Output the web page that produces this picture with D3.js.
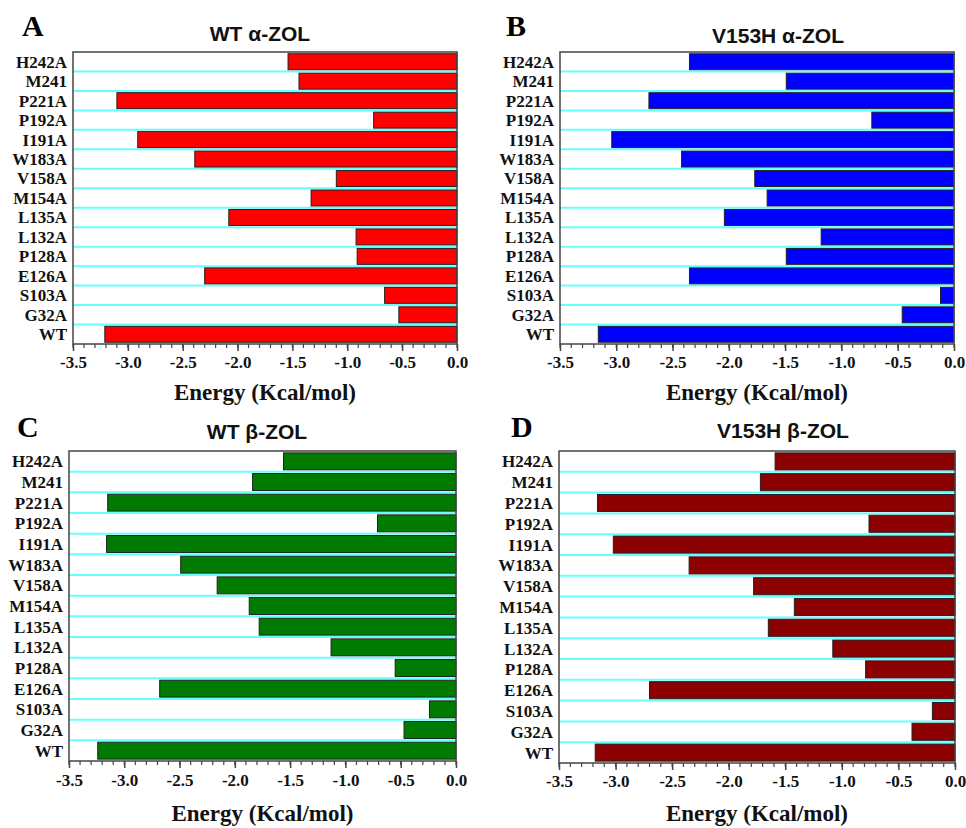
<!DOCTYPE html>
<html lang="en">
<head>
<meta charset="utf-8">
<style>
  body { margin: 0; background: #fff; }
  svg { display: block; }
</style>
</head>
<body>
<div id="viz"></div>
<script src="https://d3js.org/d3.v7.min.js"></script>
<script>

// residues, top to bottom
var residues = ["H242A","M241","P221A","P192A","I191A","W183A","V158A","M154A",
                "L135A","L132A","P128A","E126A","S103A","G32A","WT"];

var wtAlpha    = [-1.54,-1.44,-3.10,-0.76,-2.91,-2.39,-1.10,-1.33,-2.08,-0.92,-0.91,-2.30,-0.66,-0.53,-3.21];
var v153hAlpha = [-2.35,-1.49,-2.71,-0.73,-3.04,-2.42,-1.77,-1.66,-2.04,-1.18,-1.49,-2.35,-0.12,-0.46,-3.16];
var wtBeta     = [-1.56,-1.84,-3.15,-0.71,-3.16,-2.49,-2.16,-1.87,-1.78,-1.13,-0.55,-2.68,-0.24,-0.47,-3.24];
var v153hBeta  = [-1.59,-1.72,-3.16,-0.76,-3.02,-2.35,-1.78,-1.42,-1.65,-1.08,-0.79,-2.70,-0.20,-0.38,-3.18];

var xTicks = [-3.5,-3.0,-2.5,-2.0,-1.5,-1.0,-0.5,0.0];
var xLabel = "Energy (Kcal/mol)";

var w = 966, h = 828;

var svg = d3.select("#viz").append("svg")
  .attr("width", w).attr("height", h);

var panels = [
  {letter:"A", title:"WT \u03b1-ZOL",    values:wtAlpha,    color:"#ff0000",
   x0:73,  x1:457, y0:52,  y1:344, lx:22,  ly:36,  tx:260, ty:41,  tickDy:24, titleDy:56},
  {letter:"B", title:"V153H \u03b1-ZOL", values:v153hAlpha, color:"#0000ff",
   x0:560, x1:954, y0:52,  y1:344, lx:506, ly:36,  tx:778, ty:43,  tickDy:24, titleDy:56},
  {letter:"C", title:"WT \u03b2-ZOL",    values:wtBeta,     color:"#007a00",
   x0:69,  x1:456, y0:451, y1:761, lx:17,  ly:437, tx:257, ty:439, tickDy:25, titleDy:60},
  {letter:"D", title:"V153H \u03b2-ZOL", values:v153hBeta,  color:"#8b0000",
   x0:559, x1:955, y0:451, y1:763, lx:511, ly:437, tx:783, ty:438, tickDy:24, titleDy:58}
];

panels.forEach(function(p){
  var g = svg.append("g");

  var x = d3.scaleLinear().domain([-3.5, 0]).range([p.x0, p.x1]);
  var y = d3.scaleBand().domain(residues).range([p.y0, p.y1]).paddingInner(0.18).paddingOuter(0.09);
  var step = y.step();

  // cyan separators between rows
  g.selectAll(".sep")
    .data(residues.slice(1))
    .enter().append("line")
    .attr("x1", p.x0).attr("x2", p.x1)
    .attr("y1", function(d){ return y(d) - step*0.09; })
    .attr("y2", function(d){ return y(d) - step*0.09; })
    .style("stroke", "#66ffff")
    .style("stroke-width", 2);

  // bars
  g.selectAll(".bar")
    .data(p.values)
    .enter().append("rect")
    .attr("x", function(d){ return x(d); })
    .attr("y", function(d,i){ return y(residues[i]); })
    .attr("width", function(d){ return x(0) - x(d); })
    .attr("height", y.bandwidth())
    .style("fill", p.color)
    .style("stroke", "#222")
    .style("stroke-width", 1);

  // frame
  g.append("rect")
    .attr("x", p.x0).attr("y", p.y0)
    .attr("width", p.x1 - p.x0).attr("height", p.y1 - p.y0)
    .style("fill", "none")
    .style("stroke", "#444")
    .style("stroke-width", 1.5);

  // minor ticks
  var minor = d3.range(-35, 1).map(function(k){ return k/10; });
  g.selectAll(".minor")
    .data(minor)
    .enter().append("line")
    .attr("x1", function(d){ return x(d); })
    .attr("x2", function(d){ return x(d); })
    .attr("y1", p.y1).attr("y2", p.y1 + 4)
    .style("stroke", "#444").style("stroke-width", 1.2);

  // major ticks + labels
  var axis = d3.axisBottom(x).tickValues(xTicks).tickSize(7)
    .tickPadding(p.tickDy - 12 - 7).tickFormat(d3.format(".1f"));
  var ax = g.append("g").attr("transform", "translate(0," + p.y1 + ")").call(axis);
  ax.select(".domain").remove();
  ax.selectAll(".tick line").style("stroke", "#444").style("stroke-width", 1.5);
  ax.selectAll(".tick text")
    .attr("font-family", "'Liberation Serif', 'Times New Roman', serif")
    .attr("font-weight", "bold")
    .attr("font-size", 17)
    .attr("fill", "#111")
    .text(function(d){ return d3.format(".1f")(d).replace("\u2212", "-"); });

  // y labels
  g.selectAll(".ylab")
    .data(residues)
    .enter().append("text")
    .attr("x", p.x0 - 6)
    .attr("y", function(d){ return y(d) + y.bandwidth()/2; })
    .attr("dy", "0.35em")
    .attr("text-anchor", "end")
    .attr("font-family", "'Liberation Serif', 'Times New Roman', serif")
    .attr("font-weight", "bold")
    .attr("font-size", 17)
    .attr("fill", "#111")
    .text(function(d){ return d; });

  // x axis title
  g.append("text")
    .attr("x", (p.x0 + p.x1)/2)
    .attr("y", p.y1 + p.titleDy)
    .attr("text-anchor", "middle")
    .attr("font-family", "'Liberation Serif', 'Times New Roman', serif")
    .attr("font-weight", "bold")
    .attr("font-size", 23)
    .attr("fill", "#111")
    .text(xLabel);

  // panel title
  g.append("text")
    .attr("x", p.tx).attr("y", p.ty)
    .attr("text-anchor", "middle")
    .attr("font-family", "'Liberation Sans', Arial, sans-serif")
    .attr("font-weight", "bold")
    .attr("font-size", 21)
    .attr("fill", "#111")
    .text(p.title);

  // panel letter
  g.append("text")
    .attr("x", p.lx).attr("y", p.ly)
    .attr("font-family", "'Liberation Serif', 'Times New Roman', serif")
    .attr("font-weight", "bold")
    .attr("font-size", 30)
    .attr("fill", "#000")
    .text(p.letter);
});

</script>
</body>
</html>
